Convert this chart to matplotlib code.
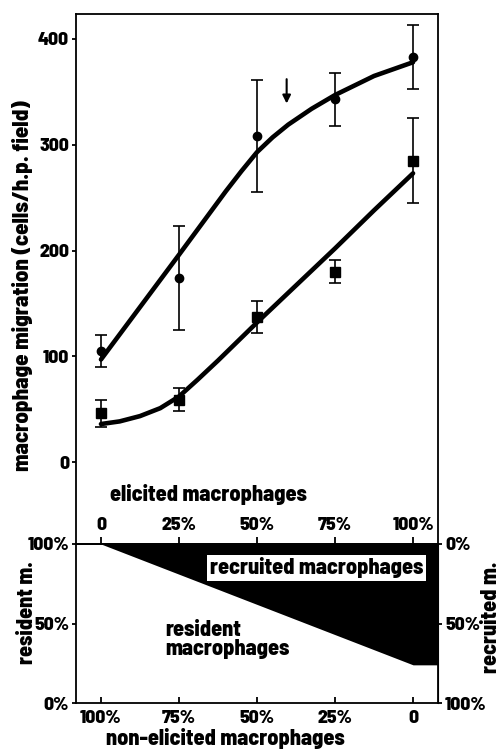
import matplotlib
matplotlib.use("Agg")
import matplotlib.pyplot as plt

plt.rcParams['font.family'] = ['Barlow Semi Condensed', 'DejaVu Sans']
plt.rcParams['font.weight'] = 800
plt.rcParams['axes.labelweight'] = 800

# mixture of elicited / non-elicited macrophages (% elicited)
pct = [0, 25, 50, 75, 100]
pct_labels_top = ['0', '25%', '50%', '75%', '100%']
pct_labels_bottom = ['100%', '75%', '50%', '25%', '0']

# measured points (mean +- error)
circle_mean = [105, 174, 308, 343, 383]
circle_err = [15, 49, 53, 25, 30]
square_mean = [46, 59, 137, 180, 285]
square_err = [13, 11, 15, 11, 40]

# drawn curves
circle_curve_x = [0, 25, 40, 45, 50, 55, 60, 67.5, 75, 87.5, 100]
circle_curve_y = [97, 196, 256, 275, 293, 307, 319, 334, 347, 365, 378]
square_curve_x = [0, 6, 12.5, 19, 25, 31, 37.5, 50, 62.5, 75, 87.5, 100]
square_curve_y = [36, 38.5, 43.5, 51, 62, 78, 96, 132, 167, 202, 238, 273]

# composition panel: resident share (%) along elicited %
comp_x = [0, 100, 108]
resident_share = [100, 24, 24]

arrow_x = 59.5
arrow_y = (362, 339)

fig = plt.figure(figsize=(5.01, 7.55), dpi=100)
W, H = 501.0, 755.0
L, R = 76, 438
ax = fig.add_axes([L / W, (H - 544) / H, (R - L) / W, (544 - 14) / H])
ax2 = fig.add_axes([L / W, (H - 703) / H, (R - L) / W, (703 - 544) / H])

XL = (-8.0, 108.0)
FS_TICK = 14
FS_LAB = 16

# ---- top panel
ax.plot(circle_curve_x, circle_curve_y, color='black', lw=3.3, solid_capstyle='round', zorder=3)
ax.plot(square_curve_x, square_curve_y, color='black', lw=3.3, solid_capstyle='round', zorder=3)
ax.errorbar(pct, circle_mean, yerr=circle_err, fmt='o', color='black', ms=6,
            elinewidth=1.2, capsize=4, capthick=1.2, zorder=4)
ax.errorbar(pct, square_mean, yerr=square_err, fmt='s', color='black', ms=6.5,
            elinewidth=1.2, capsize=4, capthick=1.2, zorder=4)
ax.annotate('', xy=(arrow_x, arrow_y[1]), xytext=(arrow_x, arrow_y[0]),
            arrowprops=dict(arrowstyle='-|>', color='black', lw=1.5, mutation_scale=12,
                            shrinkA=0, shrinkB=0))

ax.set_xlim(*XL)
ax.set_ylim(-77.4, 423.6)
ax.set_yticks([0, 100, 200, 300, 400])
ax.set_xticks([])
ax.spines['bottom'].set_visible(False)
for s in ['left', 'top', 'right']:
    ax.spines[s].set_linewidth(1.3)
ax.tick_params(axis='y', direction='out', length=3, width=1.3, pad=2, labelsize=FS_TICK)
ax.set_ylabel('macrophage migration (cells/h.p. field)', fontsize=16.5)
ax.yaxis.set_label_coords(-0.119, 0.487)
ax.text(3, -31, 'elicited macrophages', fontsize=FS_LAB, ha='left', va='center')

# ---- bottom panel
ax2.fill_between(comp_x, resident_share, 100, color='black', lw=0)
ax2.set_xlim(*XL)
ax2.set_ylim(0, 100)
ax2.set_xticks(pct)
ax2.set_xticklabels(pct_labels_bottom)
ax2.set_yticks([0, 50, 100])
ax2.set_yticklabels(['0%', '50%', '100%'])
for s in ax2.spines.values():
    s.set_linewidth(1.3)
ax2.tick_params(axis='x', direction='in', length=4, width=1.3, pad=5, labelsize=FS_TICK)
ax2.tick_params(axis='y', direction='out', length=3, width=1.3, pad=2, labelsize=FS_TICK)

top = ax2.secondary_xaxis('top')
top.set_xticks(pct)
top.set_xticklabels(pct_labels_top)
top.tick_params(direction='out', length=5, width=1.3, pad=3, labelsize=FS_TICK)
top.spines['top'].set_linewidth(1.3)

right = ax2.secondary_yaxis('right', functions=(lambda y: 100 - y, lambda y: 100 - y))
right.set_yticks([0, 50, 100])
right.set_yticklabels(['0%', '50%', '100%'])
right.tick_params(direction='out', length=3, width=1.3, pad=2, labelsize=FS_TICK)

ax2.set_ylabel('resident m.', fontsize=FS_LAB)
ax2.yaxis.set_label_coords(-0.108, 0.57)
ax2.text(1.12, 0.54, 'recruited m.', transform=ax2.transAxes, rotation=90,
         fontsize=FS_LAB, ha='left', va='center')
ax2.set_xlabel('non-elicited macrophages', fontsize=FS_LAB)
ax2.xaxis.set_label_coords(0.414, -0.16)

ax2.text(69, 85, 'recruited macrophages', fontsize=FS_LAB, ha='center', va='center',
         bbox=dict(boxstyle='square,pad=0.12', fc='white', ec='none'))
ax2.text(20.5, 40, 'resident\nmacrophages', fontsize=FS_LAB, ha='left', va='center',
         linespacing=0.9)

fig.savefig('out.png', dpi=100)
